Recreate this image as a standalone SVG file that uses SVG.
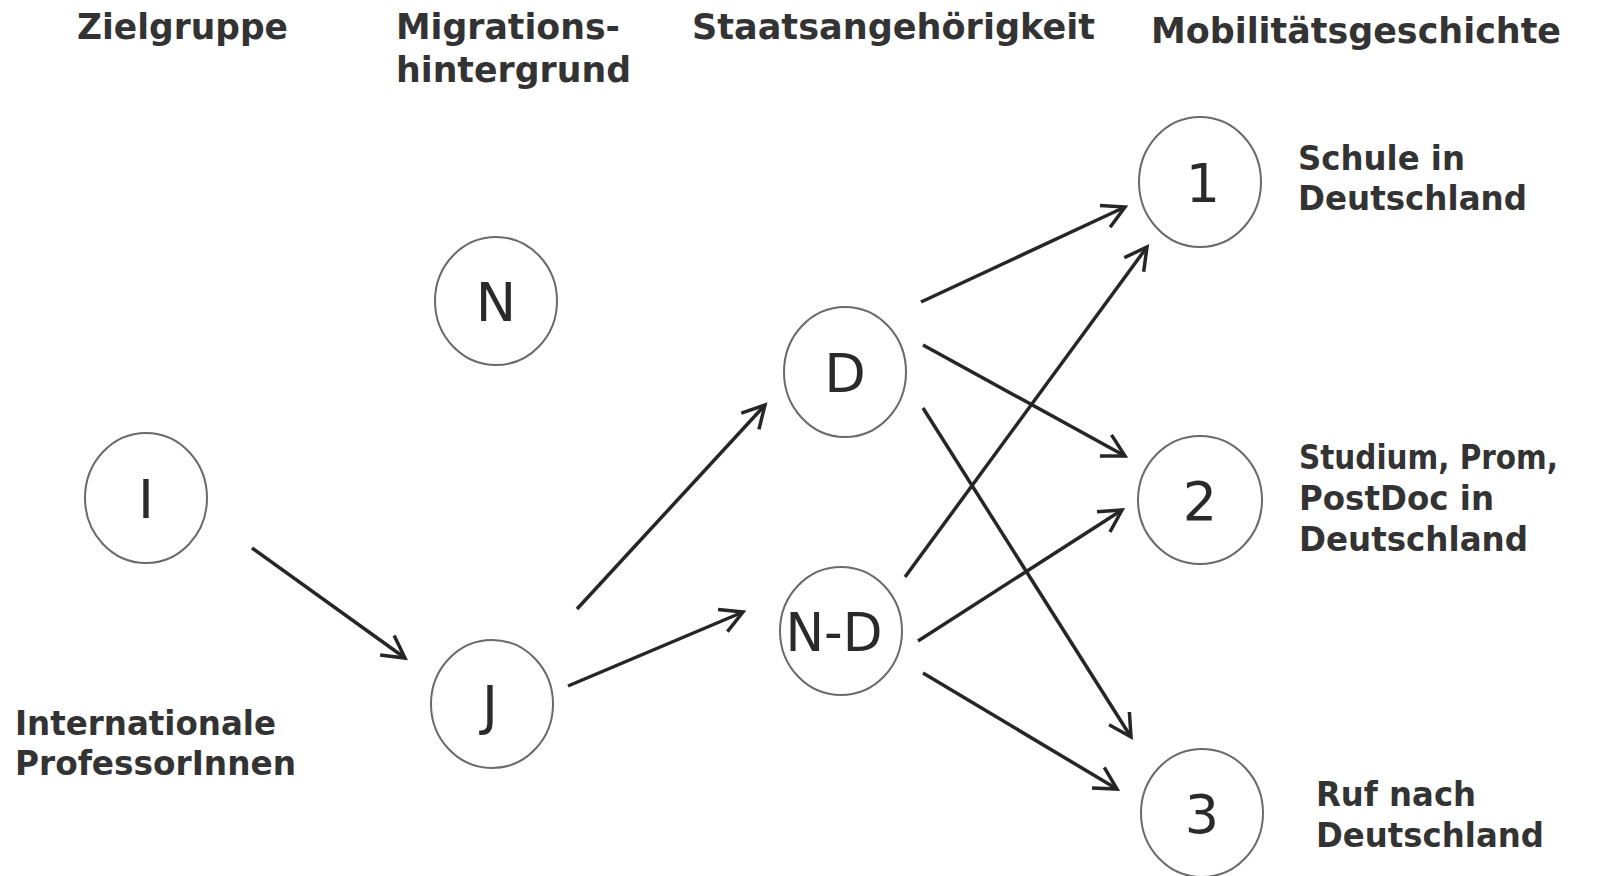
<svg xmlns="http://www.w3.org/2000/svg" width="1600" height="876" viewBox="0 0 1600 876">
<style>
.node ellipse{fill:#fff;stroke:#6a6a6a;stroke-width:2}
.node text{font-family:"DejaVu Sans",Verdana,sans-serif;font-size:54px;fill:#2a2a2a;text-anchor:middle}
.hdr{font-family:"DejaVu Sans",Verdana,sans-serif;font-weight:bold;font-size:35px;fill:#333}
.lbl{font-family:"DejaVu Sans",Verdana,sans-serif;font-weight:bold;font-size:33px;fill:#333}
.edges line{stroke:#262626;stroke-width:3.5;marker-end:url(#arr)}
</style>
<defs>
<marker id="arr" markerUnits="userSpaceOnUse" markerWidth="40" markerHeight="40" viewBox="-2 -20 40 40" refX="24" refY="0" orient="auto">
<path d="M2,-12 L24,0 L2,12" fill="none" stroke="#262626" stroke-width="3.5" stroke-linejoin="miter"/>
</marker>
</defs>
<rect width="1600" height="876" fill="#fff"/>
<g id="headers">
<text class="hdr" x="77" y="39" textLength="211" lengthAdjust="spacingAndGlyphs">Zielgruppe</text>
<text class="hdr" x="396" y="39" textLength="224" lengthAdjust="spacingAndGlyphs">Migrations-</text>
<text class="hdr" x="396" y="82" textLength="235" lengthAdjust="spacingAndGlyphs">hintergrund</text>
<text class="hdr" x="692" y="39" textLength="403" lengthAdjust="spacingAndGlyphs">Staatsangehörigkeit</text>
<text class="hdr" x="1151" y="43" textLength="410" lengthAdjust="spacingAndGlyphs">Mobilitätsgeschichte</text>
</g>
<g id="labels">
<text class="lbl" x="15" y="735" textLength="261" lengthAdjust="spacingAndGlyphs">Internationale</text>
<text class="lbl" x="15" y="775" textLength="281" lengthAdjust="spacingAndGlyphs">ProfessorInnen</text>
<text class="lbl" x="1298" y="170" textLength="167" lengthAdjust="spacingAndGlyphs">Schule in</text>
<text class="lbl" x="1298" y="210" textLength="229" lengthAdjust="spacingAndGlyphs">Deutschland</text>
<text class="lbl" x="1299" y="469" textLength="259" lengthAdjust="spacingAndGlyphs">Studium, Prom,</text>
<text class="lbl" x="1299" y="510" textLength="195" lengthAdjust="spacingAndGlyphs">PostDoc in</text>
<text class="lbl" x="1299" y="551" textLength="229" lengthAdjust="spacingAndGlyphs">Deutschland</text>
<text class="lbl" x="1316" y="806" textLength="160" lengthAdjust="spacingAndGlyphs">Ruf nach</text>
<text class="lbl" x="1316" y="847" textLength="228" lengthAdjust="spacingAndGlyphs">Deutschland</text>
</g>
<g class="edges" id="connectors">
<line x1="252" y1="548" x2="405" y2="658"/>
<line x1="577" y1="609" x2="765" y2="405"/>
<line x1="568" y1="686" x2="743" y2="612"/>
<line x1="921" y1="302" x2="1125" y2="207"/>
<line x1="923" y1="345" x2="1125" y2="456"/>
<line x1="923" y1="408" x2="1131" y2="737"/>
<line x1="905" y1="577" x2="1147" y2="247"/>
<line x1="918" y1="641" x2="1122" y2="510"/>
<line x1="923" y1="673" x2="1117" y2="789"/>
</g>
<g class="node" id="node-I"><ellipse cx="146" cy="498" rx="61" ry="65"/><text x="146" y="518">I</text></g>
<g class="node" id="node-N"><ellipse cx="496" cy="301" rx="61" ry="64"/><text x="496" y="321">N</text></g>
<g class="node" id="node-J"><ellipse cx="492" cy="704" rx="61" ry="64"/><text x="490" y="724">J</text></g>
<g class="node" id="node-D"><ellipse cx="845" cy="372" rx="61" ry="65"/><text x="845" y="392">D</text></g>
<g class="node" id="node-ND"><ellipse cx="841" cy="631" rx="61" ry="64"/><text x="834" y="651" textLength="97" lengthAdjust="spacingAndGlyphs">N-D</text></g>
<g class="node" id="node-1"><ellipse cx="1200" cy="182" rx="61" ry="65"/><text x="1203" y="202">1</text></g>
<g class="node" id="node-2"><ellipse cx="1200" cy="500" rx="62" ry="64"/><text x="1200" y="520">2</text></g>
<g class="node" id="node-3"><ellipse cx="1202" cy="813" rx="61" ry="64"/><text x="1202" y="833">3</text></g>
</svg>
